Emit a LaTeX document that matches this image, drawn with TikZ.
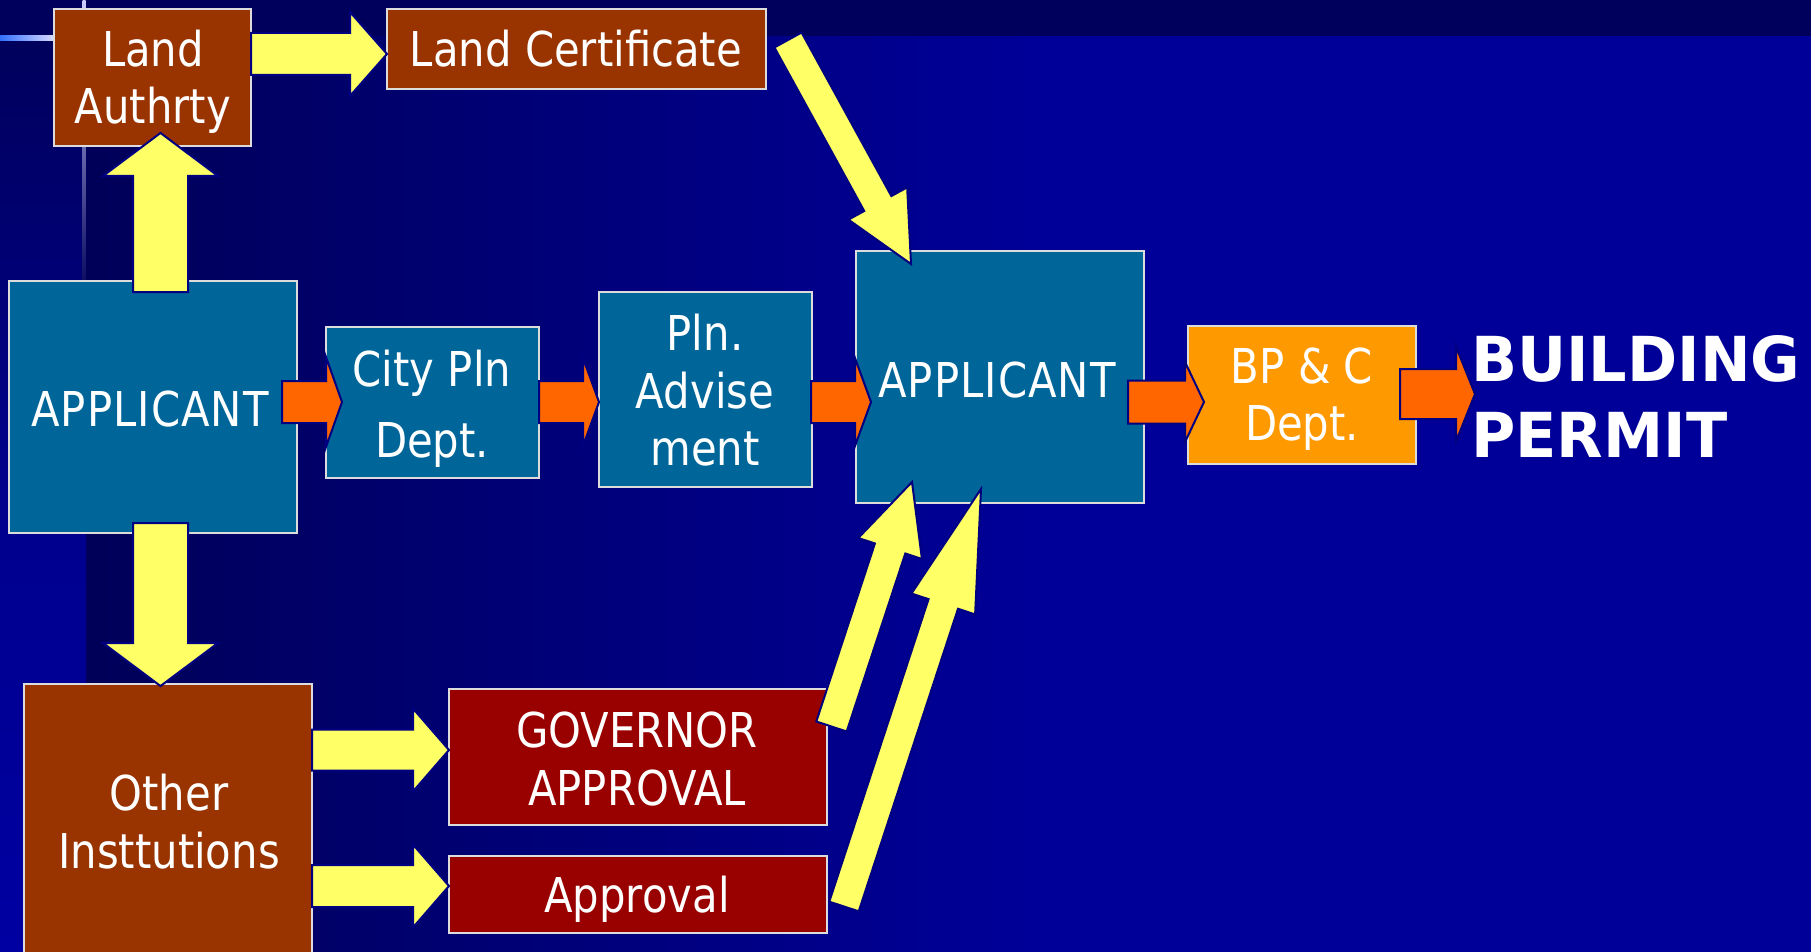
\documentclass[tikz,border=0pt]{standalone}
\usepackage{fontspec}
\setmainfont{DejaVu Sans}[FakeStretch=0.87]
\newfontfamily\bigfnt{DejaVu Sans}[FakeStretch=0.975]
\newfontfamily\wideapp{DejaVu Sans}[FakeStretch=0.87, LetterSpace=2.2]
\usetikzlibrary{calc}
\definecolor{bgmain}{HTML}{000099}
\definecolor{bgdark}{HTML}{000058}
\definecolor{bgtop}{HTML}{00005C}
\definecolor{bgstrip}{HTML}{0000A2}
\definecolor{brownbox}{HTML}{993300}
\definecolor{tealbox}{HTML}{006699}
\definecolor{redbox}{HTML}{990000}
\definecolor{orangebox}{HTML}{FF9900}
\definecolor{orangearrow}{HTML}{FF6600}
\definecolor{yellowarrow}{HTML}{FFFF66}
\definecolor{arrowline}{HTML}{000080}
\definecolor{boxline}{HTML}{DCDCDC}
\newcommand{\myfatarrow}[6]{%
  \coordinate (fhb) at ($(#3)!#6!(#2)$);
  \draw[#1] ($(#2)!#4!90:(#3)$) -- ($(fhb)!#4!90:(#3)$) -- ($(fhb)!#5!90:(#3)$) -- (#3)
    -- ($(fhb)!#5!-90:(#3)$) -- ($(fhb)!#4!-90:(#3)$) -- ($(#2)!#4!-90:(#3)$) -- cycle;}
\tikzset{
  box/.style={draw=boxline, line width=2.2pt, inner sep=0pt, outer sep=0pt, anchor=north west},
  brown/.style={box, fill=brownbox},
  teal/.style={box, fill=tealbox},
  redb/.style={box, fill=redbox},
  orng/.style={box, fill=orangebox},
  txt/.style={text=white, inner sep=0pt, anchor=base, font=\fontsize{48}{58}\selectfont},
  apptxt/.style={txt, font=\wideapp\fontsize{48}{58}\selectfont},
  bigtxt/.style={text=white, inner sep=0pt, anchor=base west, font=\bigfnt\bfseries\fontsize{62}{72}\selectfont},
  yarr/.style={fill=yellowarrow, draw=arrowline, line width=2pt, line join=miter},
  oarr/.style={fill=orangearrow, draw=arrowline, line width=2pt, line join=miter}
}
\begin{document}
\begin{tikzpicture}[x=1pt, y=-1pt]
\useasboundingbox (0,0) rectangle (1811,952);
% background
\fill[bgmain] (0,0) rectangle (1811,952);
\shade[left color=bgdark, right color=bgmain] (86,36) rectangle (1040,952);
\fill[bgtop] (0,0) rectangle (1811,36);
\shade[top color=bgtop, bottom color=bgstrip, middle color=blue!55!black] (0,36) rectangle (86,952);
\shade[top color=white!80!blue, bottom color=bgdark] (82.5,0) rectangle (85.5,300);
\shade[left color=blue!70!cyan!80!white, right color=white!85!blue] (0,36) rectangle (54,41);

% boxes
\node[brown, minimum width=197pt, minimum height=137pt] (la) at (54,9) {};
\node[brown, minimum width=379pt, minimum height=80pt] (lc) at (387,9) {};
\node[teal, minimum width=288pt, minimum height=252pt] (ap1) at (9,281) {};
\node[teal, minimum width=213pt, minimum height=151pt] (cp) at (326,327) {};
\node[teal, minimum width=213pt, minimum height=195pt] (pa) at (599,292) {};
\node[teal, minimum width=288pt, minimum height=252pt] (ap2) at (856,251) {};
\node[orng, minimum width=228pt, minimum height=138pt] (bp) at (1188,326) {};
\node[brown, minimum width=288pt, minimum height=280pt] (oi) at (24,684) {};
\node[redb, minimum width=378pt, minimum height=136pt] (gv) at (449,689) {};
\node[redb, minimum width=378pt, minimum height=77pt] (apv) at (449,856) {};

% arrow end points
\coordinate (y1s) at (251,54);   \coordinate (y1e) at (387,54);
\coordinate (y2s) at (160.5,292); \coordinate (y2e) at (160.5,133);
\coordinate (y3s) at (160.5,523); \coordinate (y3e) at (160.5,686);
\coordinate (y4s) at (312,750);  \coordinate (y4e) at (449,750);
\coordinate (y5s) at (312,886);  \coordinate (y5e) at (449,886);
\coordinate (y6s) at (788,40);   \coordinate (y6e) at (911,264);
\coordinate (y7s) at (831.5,726.5); \coordinate (y7e) at (912,482);
\coordinate (y8s) at (844,906.5); \coordinate (y8e) at (981,489);
\coordinate (o1s) at (282,402);  \coordinate (o1e) at (342,402);
\coordinate (o2s) at (539,402);  \coordinate (o2e) at (599,402);
\coordinate (o3s) at (811,402);  \coordinate (o3e) at (871,402);
\coordinate (o4s) at (1128,402); \coordinate (o4e) at (1204,402);
\coordinate (o5s) at (1400,394); \coordinate (o5e) at (1475,394);

% yellow arrows
\myfatarrow{yarr}{y1s}{y1e}{21pt}{42pt}{37pt}
\myfatarrow{yarr}{y2s}{y2e}{27.5pt}{57.5pt}{43pt}
\myfatarrow{yarr}{y3s}{y3e}{27.5pt}{57.5pt}{43pt}
\myfatarrow{yarr}{y4s}{y4e}{20.5pt}{41.5pt}{36pt}
\myfatarrow{yarr}{y5s}{y5e}{21pt}{41.5pt}{36pt}
\myfatarrow{yarr}{y6s}{y6e}{15.5pt}{33.5pt}{69pt}
\myfatarrow{yarr}{y7s}{y7e}{16pt}{33.5pt}{70pt}
\myfatarrow{yarr}{y8s}{y8e}{15.5pt}{33.5pt}{121pt}
% orange arrows
\myfatarrow{oarr}{o1s}{o1e}{21pt}{45pt}{16pt}
\myfatarrow{oarr}{o2s}{o2e}{21pt}{44pt}{16pt}
\myfatarrow{oarr}{o3s}{o3e}{21pt}{44pt}{16pt}
\myfatarrow{oarr}{o4s}{o4e}{21.5pt}{40pt}{19pt}
\myfatarrow{oarr}{o5s}{o5e}{25pt}{47.5pt}{19pt}

% texts
\node[txt] (t1) at (153,67) {Land};
\node[txt] (t2) at (153,124) {Authrty};
\node[txt] (t3) at (576,67) {Land Certificate};
\node[apptxt] (t4) at (150,426) {APPLICANT};
\node[txt] (t5) at (432,386) {City Pln};
\node[txt] (t6) at (432,457) {Dept.};
\node[txt] (t7) at (705,350) {Pln.};
\node[txt] (t8) at (705,408) {Advise};
\node[txt] (t9) at (705,465) {ment};
\node[apptxt] (t10) at (997,397) {APPLICANT};
\node[txt] (t11) at (1302,383) {BP \& C};
\node[txt] (t12) at (1302,440) {Dept.};
\node[txt] (t13) at (169,810) {Other};
\node[txt] (t14) at (169,868) {Insttutions};
\node[txt] (t15) at (637,747) {GOVERNOR};
\node[txt] (t16) at (637,805) {APPROVAL};
\node[txt] (t17) at (637,912) {Approval};
\node[bigtxt] (b1) at (1471,381) {BUILDING};
\node[bigtxt] (b2) at (1471,457) {PERMIT};
\end{tikzpicture}
\end{document}
